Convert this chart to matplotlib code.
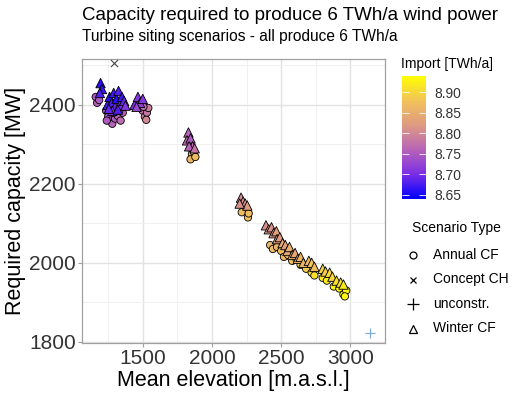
"""
capacity vs elevation scatter
"""

import matplotlib
matplotlib.use("Agg")
import matplotlib.pyplot as plt
from matplotlib.colors import LinearSegmentedColormap, Normalize
from matplotlib.lines import Line2D
import matplotlib.cm as cm

plt.rcParams["font.family"] = ["Liberation Sans", "DejaVu Sans"]

# Annual CF scenarios (circles): elevation, capacity, import
annual_elev = [1160, 1170, 1185,
               1235, 1250, 1265, 1280, 1300, 1320, 1340, 1355, 1240, 1290, 1330, 1365,
               1500, 1515, 1530, 1540, 1525, 1505,
               1855, 1870, 1845, 1880,
               2215, 2260, 2265,
               2420, 2440, 2470, 2500, 2520, 2550, 2580, 2610, 2640, 2680,
               2720, 2740, 2800, 2830, 2880, 2920, 2950, 2970, 2960]
annual_cap = [2420, 2405, 2412,
              2385, 2370, 2360, 2352, 2365, 2372, 2360, 2380, 2360, 2380, 2385, 2395,
              2385, 2370, 2380, 2392, 2362, 2395,
              2275, 2280, 2262, 2268,
              2128, 2115, 2125,
              2045, 2035, 2040, 2030, 2015, 2020, 2005, 2010, 1995, 1985,
              1975, 1968, 1962, 1955, 1940, 1935, 1920, 1930, 1915]
annual_imp = [8.75, 8.76, 8.75,
              8.74, 8.75, 8.76, 8.76, 8.75, 8.76, 8.77, 8.76, 8.75, 8.74, 8.75, 8.77,
              8.78, 8.79, 8.78, 8.79, 8.80, 8.77,
              8.86, 8.87, 8.86, 8.87,
              8.87, 8.88, 8.87,
              8.86, 8.87, 8.86, 8.87, 8.87, 8.88, 8.88, 8.87, 8.89, 8.89,
              8.91, 8.91, 8.92, 8.92, 8.93, 8.93, 8.93, 8.93, 8.93]

# Winter CF scenarios (triangles)
winter_elev = [1195, 1205, 1190,
               1245, 1260, 1275, 1290, 1300, 1310, 1325, 1335, 1350, 1365, 1280, 1320,
               1255, 1375,
               1440, 1465, 1480, 1500, 1455,
               1830, 1820, 1845, 1860, 1835, 1875,
               2210, 2225, 2240, 2255, 2200,
               2390, 2410, 2430, 2445, 2465, 2470, 2490, 2510, 2530, 2545, 2560,
               2580, 2600, 2620, 2640, 2660, 2700, 2720, 2740, 2800, 2820, 2850,
               2870, 2900, 2930, 2950]
winter_cap = [2455, 2440, 2430,
              2400, 2420, 2405, 2430, 2395, 2415, 2435, 2400, 2420, 2410, 2385, 2388,
              2390, 2398,
              2400, 2420, 2405, 2415, 2395,
              2330, 2310, 2315, 2295, 2295, 2290,
              2165, 2155, 2150, 2145, 2150,
              2095, 2085, 2090, 2075, 2080, 2060, 2065, 2050, 2045, 2030, 2040,
              2020, 2025, 2010, 2015, 2000, 2005, 2000, 1990, 1985, 1978, 1975,
              1965, 1955, 1950, 1945]
winter_imp = [8.66, 8.67, 8.68,
              8.67, 8.66, 8.68, 8.67, 8.69, 8.66, 8.68, 8.70, 8.67, 8.69, 8.70, 8.68,
              8.69, 8.71,
              8.70, 8.71, 8.72, 8.71, 8.73,
              8.76, 8.77, 8.75, 8.77, 8.76, 8.78,
              8.80, 8.81, 8.80, 8.82, 8.81,
              8.81, 8.82, 8.81, 8.82, 8.83, 8.83, 8.82, 8.84, 8.83, 8.84, 8.85,
              8.85, 8.84, 8.85, 8.86, 8.86, 8.87, 8.88, 8.87, 8.89, 8.89, 8.90,
              8.90, 8.91, 8.91, 8.92]

concept_elev = [1295]
concept_cap = [2507]
unconstr_elev = [3145]
unconstr_cap = [1823]

import_ticks = [8.65, 8.70, 8.75, 8.80, 8.85, 8.90]
legend_labels = ["Annual CF", "Concept CH", "unconstr.", "Winter CF"]

cmap = LinearSegmentedColormap.from_list(
    "imp", ["#0000FF", "#7A2EE6", "#B763B8", "#DE9A82", "#F2C25A", "#FFFF00"])
norm = Normalize(vmin=8.64, vmax=8.94)

W, H = 517, 399
fig = plt.figure(figsize=(W / 100, H / 100), dpi=100)
ax = fig.add_axes([82 / W, 1 - 343 / H, 303 / W, 284 / H])

ax.scatter(annual_elev, annual_cap, c=annual_imp, cmap=cmap, norm=norm,
           marker="o", s=28, edgecolors="black", linewidths=0.6, zorder=3)
ax.scatter(winter_elev, winter_cap, c=winter_imp, cmap=cmap, norm=norm,
           marker="^", s=46, edgecolors="black", linewidths=0.6, zorder=4)
ax.scatter(concept_elev, concept_cap, marker="x", s=26, color="#444444",
           linewidths=0.8, zorder=5)
ax.scatter(unconstr_elev, unconstr_cap, marker="+", s=60, color="#7FAEDD",
           linewidths=0.9, zorder=5)

ax.set_xlim(1061, 3237)
ax.set_ylim(1797, 2516)
ax.set_xticks([1500, 2000, 2500, 3000])
ax.set_xticks([1250, 1750, 2250, 2750, 3250], minor=True)
ax.set_yticks([1800, 2000, 2200, 2400])
ax.set_yticks([1900, 2100, 2300, 2500], minor=True)
ax.grid(which="major", color="#E2E2E2", linewidth=1.0, zorder=0)
ax.grid(which="minor", color="#EEEEEE", linewidth=0.6, zorder=0)
ax.set_axisbelow(True)
for sp in ax.spines.values():
    sp.set_color("#A0A0A0")
    sp.set_linewidth(0.9)
ax.tick_params(which="major", labelsize=15, colors="#A0A0A0", labelcolor="#333333",
               length=3, width=0.8, pad=1.5)
ax.tick_params(which="minor", length=0)
ax.set_xlabel("Mean elevation [m.a.s.l.]", fontsize=15.5, labelpad=1)
ax.set_ylabel("Required capacity [MW]", fontsize=15.5, labelpad=2)

fig.text(82 / W, 1 - 16 / H, "Capacity required to produce 6 TWh/a wind power",
         fontsize=13.5, va="center", ha="left")
fig.text(82 / W, 1 - 36 / H, "Turbine siting scenarios - all produce 6 TWh/a",
         fontsize=11.2, va="center", ha="left")

# colourbar
cax = fig.add_axes([402 / W, 1 - 199 / H, 24 / W, 123 / H])
cb = fig.colorbar(cm.ScalarMappable(norm=norm, cmap=cmap), cax=cax, ticks=import_ticks)
cb.outline.set_visible(False)
cb.ax.set_yticklabels([f"{t:.2f}" for t in import_ticks])
cb.ax.tick_params(direction="in", length=5, width=0.6, color="white",
                  labelsize=10, labelcolor="#333333", pad=6, left=True)
fig.text(401 / W, 1 - 64 / H, "Import [TWh/a]", fontsize=10, va="center", ha="left")

# shape legend
fig.text(412 / W, 1 - 228 / H, "Scenario Type", fontsize=10, va="center", ha="left")
leg_markers = ["o", "x", "+", "^"]
leg_sizes = [5, 5, 8, 6]
for i, (lab, mk) in enumerate(zip(legend_labels, leg_markers)):
    yy = 1 - (255 + i * 24.5) / H
    fig.add_artist(Line2D([413 / W], [yy], marker=mk, markersize=leg_sizes[i],
                          markerfacecolor="none", markeredgecolor="black",
                          markeredgewidth=0.9, linestyle="none"))
    fig.text(433 / W, yy, lab, fontsize=10, va="center", ha="left")

fig.savefig("out.png", dpi=100)
